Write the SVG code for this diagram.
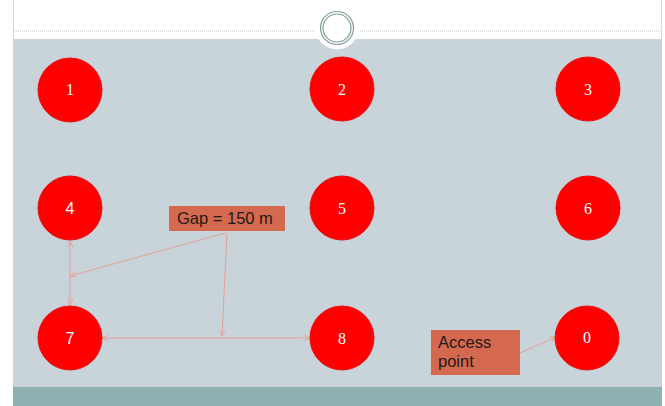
<svg xmlns="http://www.w3.org/2000/svg" width="665" height="406" viewBox="0 0 665 406">
  <style>
    .node circle { fill: #ff0000; stroke: #e81010; stroke-width: 1; }
    .num { fill: #ffffff; font-family: "Liberation Serif", serif; font-size: 16px; text-anchor: middle; }
    .num-sans { fill: #ffffff; font-family: "Liberation Sans", sans-serif; font-size: 16px; text-anchor: middle; }
    .box rect { fill: #d5694f; }
    .box text { fill: #1e1a18; font-family: "Liberation Sans", sans-serif; font-size: 16.5px; }
    .conn line { stroke: #e0a197; stroke-width: 1; fill: none; }
    .conn .end { marker-end: url(#head); }
    .conn .both { marker-start: url(#tail); marker-end: url(#head); }
  </style>
  <defs>
    <marker id="head" viewBox="0 0 10 10" refX="10" refY="5" markerWidth="7" markerHeight="7" orient="auto" markerUnits="userSpaceOnUse">
      <path d="M1,1 L10,5 L1,9" fill="none" stroke="#e0a197" stroke-width="1.3"/>
    </marker>
    <marker id="tail" viewBox="0 0 10 10" refX="0" refY="5" markerWidth="7" markerHeight="7" orient="auto" markerUnits="userSpaceOnUse">
      <path d="M9,1 L0,5 L9,9" fill="none" stroke="#e0a197" stroke-width="1.3"/>
    </marker>
  </defs>

  <!-- page -->
  <rect x="0" y="0" width="665" height="406" fill="#ffffff"/>
  <!-- slide body -->
  <rect x="13" y="39" width="649" height="349" fill="#c9d4da"/>
  <rect x="13" y="387" width="649" height="19" fill="#90b1b1"/>
  <line x1="13.5" y1="0" x2="13.5" y2="39" stroke="#d6dcdc" stroke-width="1"/>
  <line x1="661.5" y1="0" x2="661.5" y2="39" stroke="#d6dcdc" stroke-width="1"/>
  <!-- title rule and ring ornament -->
  <line x1="14" y1="31" x2="662" y2="31" stroke="#c4c9c9" stroke-width="1" stroke-dasharray="1 1"/>
  <circle cx="337" cy="28" r="21.5" fill="#ffffff"/>
  <circle cx="337" cy="28" r="16.5" fill="none" stroke="#7f9c9c" stroke-width="1.2"/>
  <circle cx="337" cy="28" r="14" fill="none" stroke="#7f9c9c" stroke-width="1.2"/>

  <!-- connectors -->
  <g id="connectors" class="conn">
    <line class="end" x1="225" y1="233" x2="70" y2="276"/>
    <line class="end" x1="227" y1="233" x2="222" y2="336"/>
    <line class="both" x1="70" y1="241" x2="70" y2="305"/>
    <line class="both" x1="102" y1="338" x2="310" y2="338"/>
    <line class="end" x1="520" y1="353" x2="556" y2="337"/>
  </g>

  <!-- nodes -->
  <g id="n1" class="node"><circle cx="70" cy="90" r="32"/><text class="num" x="70" y="95">1</text></g>
  <g id="n2" class="node"><circle cx="342" cy="89" r="32"/><text class="num" x="342" y="95">2</text></g>
  <g id="n3" class="node"><circle cx="588" cy="89" r="32"/><text class="num" x="588" y="95">3</text></g>
  <g id="n4" class="node"><circle cx="70" cy="208" r="32"/><text class="num-sans" x="70" y="214">4</text></g>
  <g id="n5" class="node"><circle cx="342" cy="208" r="32"/><text class="num" x="342" y="214">5</text></g>
  <g id="n6" class="node"><circle cx="588" cy="208" r="32"/><text class="num" x="588" y="214">6</text></g>
  <g id="n7" class="node"><circle cx="70" cy="338" r="32"/><text class="num-sans" x="70" y="344">7</text></g>
  <g id="n8" class="node"><circle cx="342" cy="338" r="32"/><text class="num" x="342" y="344">8</text></g>
  <g id="n0" class="node"><circle cx="587" cy="338" r="32"/><text class="num" x="587" y="343" font-size="13">0</text></g>

  <!-- labels -->
  <g id="gap-label" class="box">
    <rect x="169" y="206" width="116" height="25"/>
    <text x="177" y="224">Gap = 150 m</text>
  </g>
  <g id="access-label" class="box">
    <rect x="431" y="330" width="89" height="45"/>
    <text x="438" y="348">Access</text>
    <text x="438" y="367">point</text>
  </g>
</svg>
